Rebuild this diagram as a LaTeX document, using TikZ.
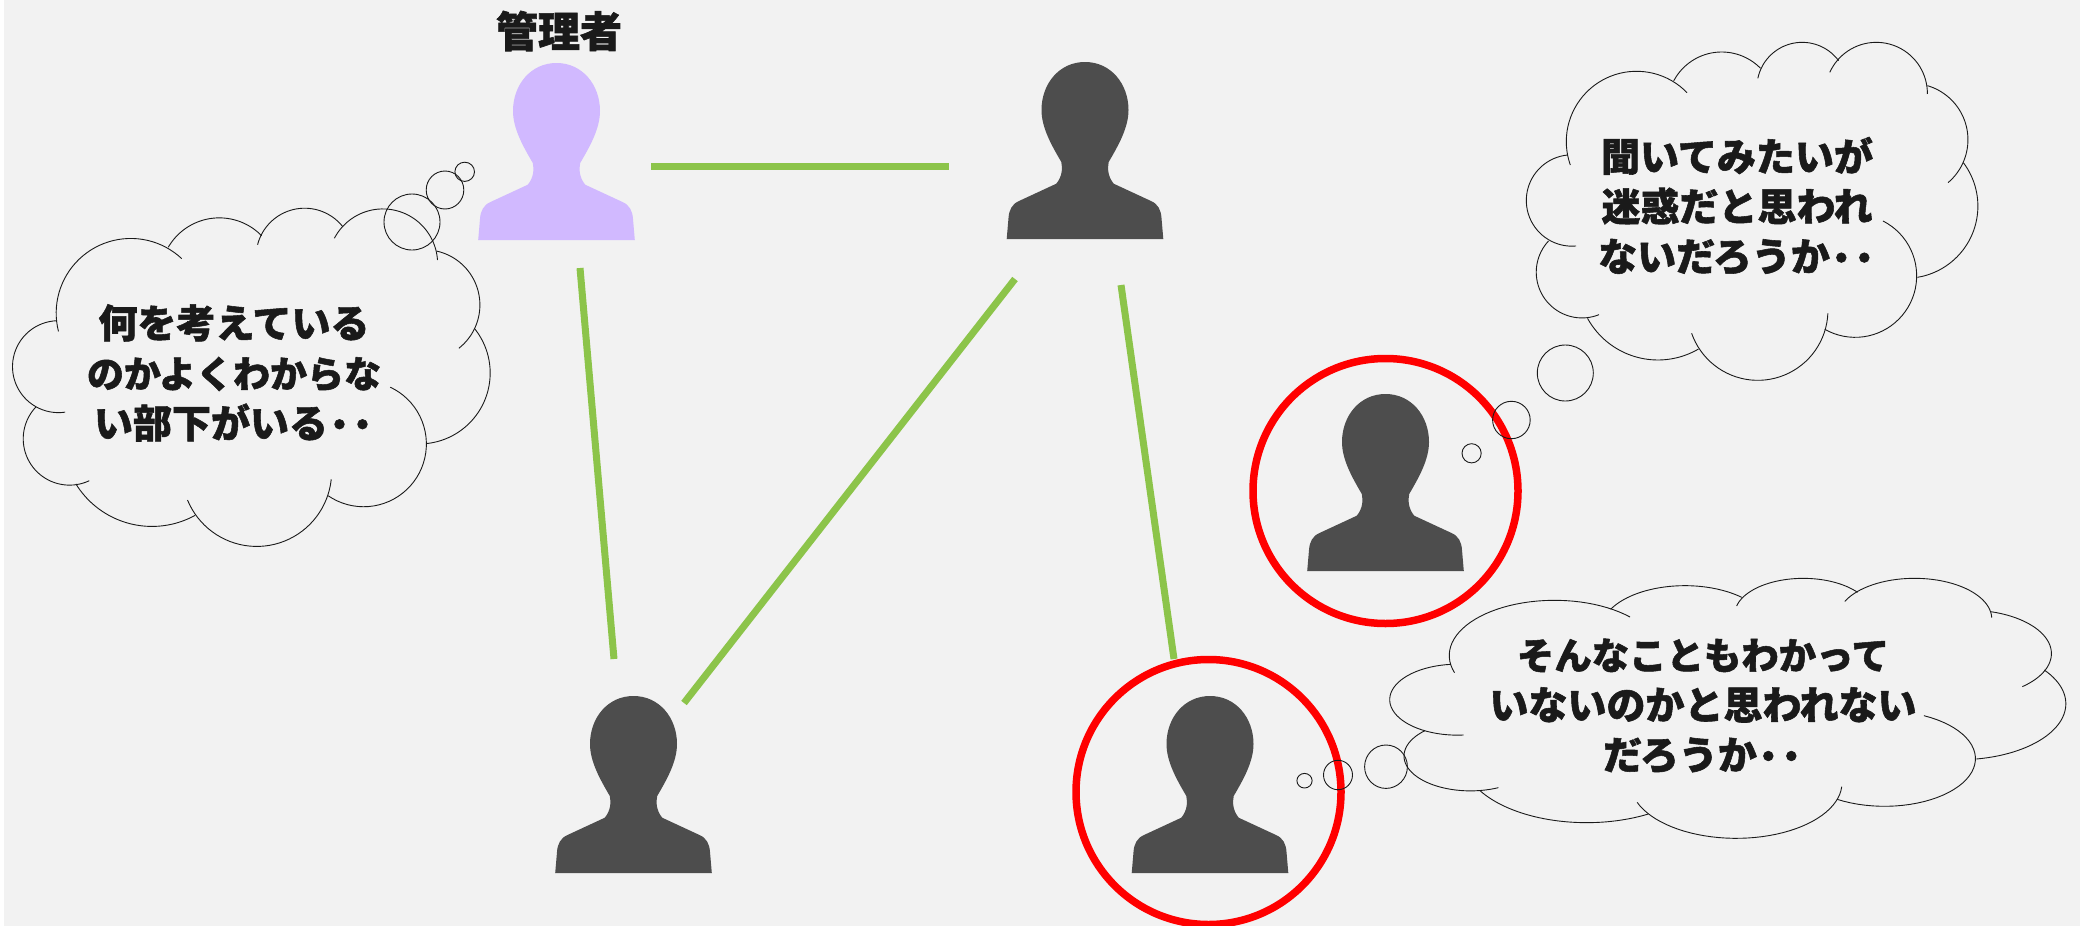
\documentclass[tikz,border=0pt]{standalone}
\usepackage{fontspec}
\newfontfamily\cjk{Noto Sans CJK JP}[BoldFont={Noto Sans CJK JP Black},BoldFeatures={FakeBold=1.4}]
\definecolor{bgc}{HTML}{F2F2F2}
\definecolor{darkp}{HTML}{4D4D4D}
\definecolor{purp}{HTML}{D1B9FF}
\definecolor{grn}{HTML}{8CC44A}
\definecolor{ink}{HTML}{1A1A1A}
\tikzset{
  person/.pic={
    \path[pic actions] (0,0) .. controls (-26,0) and (-43.5,22) .. (-43.5,48)
      .. controls (-43.5,66) and (-33,84) .. (-23.7,100)
      .. controls (-22.5,106) and (-22.5,114) .. (-28.7,121.7)
      -- (-53.7,133.3) -- (-66,139)
      .. controls (-73,142) and (-76,148) .. (-76.5,156)
      -- (-78.3,177) -- (78.3,177) -- (76.5,156)
      .. controls (76,148) and (73,142) .. (66,139)
      -- (53.7,133.3) -- (28.7,121.7)
      .. controls (22.5,114) and (22.5,106) .. (23.7,100)
      .. controls (33,84) and (43.5,66) .. (43.5,48)
      .. controls (43.5,22) and (26,0) .. (0,0) -- cycle;
  },
  link/.style={grn,line width=7pt},
  ring/.style={draw=red,line width=7.5pt},
  cl/.style={draw=ink,line width=0.9pt},
  bubble/.style={draw=ink,line width=0.9pt},
  say/.style={font=\cjk\bfseries\fontsize{39}{50}\selectfont,text=ink,inner sep=0pt,align=center},
}
\newcommand{\twodots}{\raisebox{-4pt}{\fontsize{46}{50}\selectfont ･･}}
% arc through three points given in the scope's units; \nIx,\nIy make lobes round
\newcommand{\lobe}[6]{%
  \pgfmathsetmacro{\lBx}{(#3-#1)/\nIx}%
  \pgfmathsetmacro{\lBy}{(#4-#2)/\nIy}%
  \pgfmathsetmacro{\lCx}{(#5-#1)/\nIx}%
  \pgfmathsetmacro{\lCy}{(#6-#2)/\nIy}%
  \pgfmathsetmacro{\lD}{2*(\lBx*\lCy-\lBy*\lCx)}%
  \pgfmathsetmacro{\lBs}{\lBx*\lBx+\lBy*\lBy}%
  \pgfmathsetmacro{\lCs}{\lCx*\lCx+\lCy*\lCy}%
  \pgfmathsetmacro{\lUx}{(\lCy*\lBs-\lBy*\lCs)/\lD}%
  \pgfmathsetmacro{\lUy}{(\lBx*\lCs-\lCx*\lBs)/\lD}%
  \pgfmathsetmacro{\lR}{sqrt(\lUx*\lUx+\lUy*\lUy)}%
  \pgfmathsetmacro{\lS}{atan2(-\lUy,-\lUx)}%
  \pgfmathsetmacro{\lE}{atan2(\lCy-\lUy,\lCx-\lUx)}%
  \pgfmathsetmacro{\lE}{\lD>0 ? (\lE<\lS ? \lE+360 : \lE) : (\lE>\lS ? \lE-360 : \lE)}%
  \draw[cl] plot[domain=\lS:\lE,samples=40] ({#1+\nIx*(\lUx+\lR*cos(\x))},{#2+\nIy*(\lUy+\lR*sin(\x))});%
}
\begin{document}
\begin{tikzpicture}[x=1pt,y=-1pt]
\useasboundingbox (0,0) rectangle (2080,926);
\fill[white] (0,0) rectangle (2080,926);
\fill[bgc] (4,0) rectangle (2080,926);
% people
\pic[fill=purp] (mgr) at (556.5,63) {person};
\pic[fill=darkp] (peer) at (1085,62) {person};
\pic[fill=darkp] (low) at (633.5,696) {person};
\pic[fill=darkp] (up) at (1385.5,394) {person};
\pic[fill=darkp] (dn) at (1210,696) {person};
% link ends
\coordinate (a1) at (651,166); \coordinate (a2) at (949,166);
\coordinate (b1) at (580,268); \coordinate (b2) at (614,659);
\coordinate (c1) at (1015,279); \coordinate (c2) at (684,703);
\coordinate (d1) at (1121,285); \coordinate (d2) at (1174,659);
\draw[link] (a1) -- (a2);
\draw[link] (b1) -- (b2);
\draw[link] (c1) -- (c2);
\draw[link] (d1) -- (d2);
% rings
\node[ring,circle,minimum size=265pt,inner sep=0pt] (r1) at (1385.5,491) {};
\node[ring,circle,minimum size=265pt,inner sep=0pt] (r2) at (1208.5,792) {};
% bubbles
\draw[bubble] (464.7,171.8) ellipse [x radius=9.8,y radius=9.6];
\draw[bubble] (445,190) ellipse [x radius=18.8,y radius=19];
\draw[bubble] (412,222) ellipse [x radius=28,y radius=28];
\draw[bubble] (1565.3,373) ellipse [x radius=28,y radius=28];
\draw[bubble] (1511.4,420) ellipse [x radius=18.8,y radius=18.7];
\draw[bubble] (1471.6,453.3) ellipse [x radius=9.6,y radius=9.6];
\draw[bubble] (1386,766.7) ellipse [x radius=21.4,y radius=21.7];
\draw[bubble] (1338,775) ellipse [x radius=14.5,y radius=14.7];
\draw[bubble] (1304.5,780.7) ellipse [x radius=7.6,y radius=7.3];
% cloud 1
\def\nIx{112}\def\nIy{140}
\begin{scope}[x=0.44643pt,y=-0.35714pt]
\lobe{131}{928}{170}{735}{407}{724}
\lobe{377}{692}{490}{610}{586}{660}
\lobe{577}{685}{680}{583}{768}{635}
\lobe{749}{667}{860}{585}{980}{728}
\lobe{978}{703}{1075}{855}{1028}{975}
\lobe{1063}{920}{1098}{1040}{955}{1242}
\lobe{874}{1084}{955}{1250}{735}{1388}
\lobe{742}{1342}{575}{1530}{420}{1400}
\lobe{437}{1443}{340}{1474}{170}{1355}
\lobe{200}{1346}{52}{1230}{80}{1140}
\lobe{146}{1154}{28}{1025}{127}{898}
\end{scope}
% cloud 2
\def\nIx{130.65}\def\nIy{150}
\begin{scope}[shift={(1400pt,-20pt)},x=0.38270pt,y=-0.33333pt]
\lobe{445}{435}{470}{240}{750}{218}
\lobe{715}{183}{840}{96}{942}{145}
\lobe{935}{175}{1050}{67}{1146}{122}
\lobe{1123}{157}{1245}{67}{1378}{222}
\lobe{1378}{197}{1484}{360}{1432}{488}
\lobe{1472}{428}{1510}{560}{1352}{772}
\lobe{1262}{603}{1350}{770}{1110}{928}
\lobe{1118}{880}{935}{1081}{762}{940}
\lobe{780}{987}{675}{1020}{490}{895}
\lobe{520}{884}{356}{760}{388}{663}
\lobe{460}{678}{330}{540}{438}{405}
\end{scope}
% cloud 3
\def\nIx{187}\def\nIy{150}
\begin{scope}[shift={(1280pt,-560pt)},x=0.51020pt,y=-0.33333pt]
\lobe{342}{338}{380}{180}{686}{171}
\lobe{648}{148}{790}{77}{905}{112}
\lobe{895}{138}{1025}{55}{1132}{97}
\lobe{1107}{124}{1250}{55}{1395}{173}
\lobe{1393}{155}{1512}{280}{1455}{380}
\lobe{1498}{330}{1540}{440}{1365}{597}
\lobe{1262}{467}{1363}{600}{1092}{718}
\lobe{1101}{680}{895}{835}{700}{727}
\lobe{722}{762}{600}{788}{392}{692}
\lobe{428}{683}{243}{590}{284}{512}
\lobe{360}{525}{215}{420}{335}{313}
\end{scope}
% texts
\node[say,font=\cjk\bfseries\fontsize{42}{50}\selectfont] (lab) at (559,31) {管理者};
\node[say] (t1) at (234,373) {何を考えている\\{\fontsize{37}{50}\selectfont のかよくわからな}\\い部下がいる\twodots};
\node[say] (t2) at (1737,206) {聞いてみたいが\\迷惑だと思われ\\ないだろうか\twodots};
\node[say] (t3) at (1703,706) {{\fontsize{37.4}{50}\selectfont そんなこともわかって}\\いないのかと思われない\\だろうか\twodots};
\end{tikzpicture}
\end{document}
